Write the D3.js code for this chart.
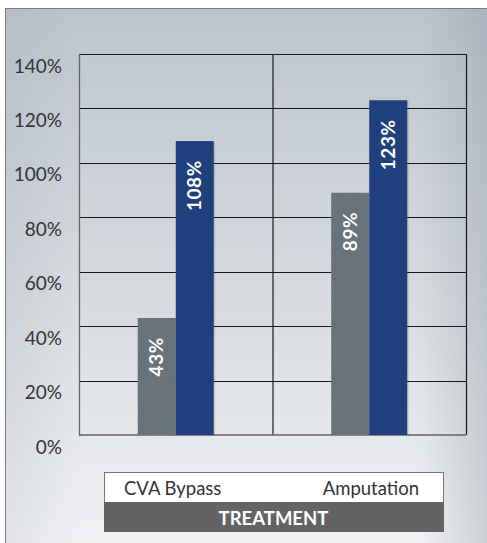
<!DOCTYPE html>
<html>
<head>
<meta charset="utf-8">
<script src="https://cdn.jsdelivr.net/npm/d3@7"></script>
<style>
  body { margin: 0; background: #fff; }
  svg { display: block; font-family: Lato, "Open Sans", sans-serif; }
</style>
</head>
<body>
<svg id="chart"></svg>
<script>
const categories = ['CVA Bypass', 'Amputation'];
const series = ['first', 'second'];
const firstValues = [43, 89];
const secondValues = [108, 123];
const yTicks = [0, 20, 40, 60, 80, 100, 120, 140];
const axisTitle = 'TREATMENT';

const W = 487, H = 543;
const margin = { top: 54, left: 79, right: 21, bottom: 108 };
const w = W - margin.left - margin.right;
const h = H - margin.top - margin.bottom;

const svg = d3.select('#chart').attr('width', W).attr('height', H);
const defs = svg.append('defs');

const bg = defs.append('linearGradient').attr('id', 'bg')
  .attr('x1', 0).attr('y1', 0).attr('x2', 0).attr('y2', 1);
bg.append('stop').attr('offset', '0%').attr('stop-color', '#bcc4cd');
bg.append('stop').attr('offset', '55%').attr('stop-color', '#d8dce1');
bg.append('stop').attr('offset', '100%').attr('stop-color', '#f1f2f4');

const side = defs.append('linearGradient').attr('id', 'side')
  .attr('x1', 0).attr('y1', 0).attr('x2', 1).attr('y2', 0);
side.append('stop').attr('offset', '0%').attr('stop-color', '#8e99a5').attr('stop-opacity', 0.15);
side.append('stop').attr('offset', '15%').attr('stop-color', '#8e99a5').attr('stop-opacity', 0);
side.append('stop').attr('offset', '85%').attr('stop-color', '#8e99a5').attr('stop-opacity', 0);
side.append('stop').attr('offset', '100%').attr('stop-color', '#8e99a5').attr('stop-opacity', 0.4);

const tex = defs.append('filter').attr('id', 'tex');
tex.append('feTurbulence').attr('type', 'fractalNoise').attr('baseFrequency', 0.9).attr('numOctaves', 2).attr('result', 'n');
tex.append('feColorMatrix').attr('in', 'n').attr('type', 'matrix')
  .attr('values', '0 0 0 0 0.4  0 0 0 0 0.45  0 0 0 0 0.5  0 0 0 0.18 0').attr('result', 'nc');
tex.append('feComposite').attr('in', 'nc').attr('in2', 'SourceGraphic').attr('operator', 'in').attr('result', 'nm');
const fm = tex.append('feMerge');
fm.append('feMergeNode').attr('in', 'SourceGraphic');
fm.append('feMergeNode').attr('in', 'nm');

// panel
svg.append('rect').attr('x', 5.5).attr('y', 8.5).attr('width', W).attr('height', H)
  .attr('fill', 'url(#bg)').attr('stroke', '#7a7a7a');
svg.append('rect').attr('x', 6).attr('y', 9).attr('width', W).attr('height', H)
  .attr('fill', 'url(#side)');

const g = svg.append('g').attr('transform', `translate(${margin.left},${margin.top})`);

const x = d3.scaleBand().domain(categories).range([0, w]);
const xs = d3.scaleBand().domain(series).range([x.bandwidth() / 2 - 38, x.bandwidth() / 2 + 38]);
const y = d3.scaleLinear().domain([0, 140]).range([h, 0]);

// grid
g.selectAll('.grid').data(yTicks.slice(1)).join('line')
  .attr('x1', 0).attr('x2', w)
  .attr('y1', d => Math.round(y(d)) + 0.5).attr('y2', d => Math.round(y(d)) + 0.5)
  .attr('stroke', '#1a1a1a').attr('stroke-width', 1.2);
g.append('line').attr('x1', x(categories[1]) + 0.5).attr('x2', x(categories[1]) + 0.5)
  .attr('y1', 0).attr('y2', h).attr('stroke', '#1a1a1a').attr('stroke-width', 1.2);
g.append('line').attr('x1', w + 0.5).attr('x2', w + 0.5)
  .attr('y1', 0).attr('y2', h).attr('stroke', '#1a1a1a').attr('stroke-width', 1.2);

// y axis
const yAxis = d3.axisLeft(y).tickValues(yTicks).tickSize(0).tickPadding(17).tickFormat(d => d + '%');
const ya = g.append('g').call(yAxis);
ya.select('.domain').attr('stroke', '#666').attr('stroke-width', 1.3);
ya.append('line').attr('x1', 0).attr('x2', w).attr('y1', h).attr('y2', h).attr('stroke', '#666').attr('stroke-width', 1.3);
ya.selectAll('text').attr('fill', '#333').attr('font-size', 19).attr('dy', '0.95em')
  .attr('font-family', 'Lato, "Open Sans", sans-serif');

// bars
const rows = categories.map((c, i) => [
  { cat: c, s: 'first', v: firstValues[i] },
  { cat: c, s: 'second', v: secondValues[i] }
]).flat();

const bars = g.selectAll('.bar').data(rows).join('g');
bars.append('rect')
  .attr('x', d => x(d.cat) + xs(d.s) + 1.5)
  .attr('y', d => y(d.v) + 1)
  .attr('width', xs.bandwidth())
  .attr('height', d => h - y(d.v) - 1)
  .attr('fill', '#000').attr('opacity', 0.1);
bars.append('rect')
  .attr('x', d => x(d.cat) + xs(d.s))
  .attr('y', d => y(d.v))
  .attr('width', xs.bandwidth())
  .attr('height', d => h - y(d.v))
  .attr('fill', d => d.s === 'first' ? '#5f6a72' : '#1f3f7d')
  .attr('filter', d => d.s === 'first' ? 'url(#tex)' : null);
bars.append('text')
  .attr('transform', d => `translate(${x(d.cat) + xs(d.s) + xs.bandwidth() / 2 + 6.5},${y(d.v) + 19}) rotate(-90)`)
  .attr('text-anchor', 'end')
  .attr('fill', '#fff').attr('font-size', 19).attr('font-weight', 'bold')
  .attr('letter-spacing', 0.6)
  .text(d => d.v + '%');

// category box
const boxX = 104, boxW = 339;
svg.append('rect').attr('x', boxX + 0.5).attr('y', 472.5).attr('width', boxW).attr('height', 30)
  .attr('fill', '#fff').attr('stroke', '#777');
svg.append('rect').attr('x', boxX).attr('y', 502).attr('width', boxW + 1).attr('height', 30)
  .attr('fill', '#636363');
svg.append('text').attr('x', 124).attr('y', 495).attr('font-size', 18.5).attr('fill', '#333')
  .text(categories[0]);
svg.append('text').attr('x', 419).attr('y', 495).attr('text-anchor', 'end').attr('font-size', 18.5).attr('fill', '#333')
  .text(categories[1]);
svg.append('text').attr('x', boxX + boxW / 2).attr('y', 524.5).attr('text-anchor', 'middle')
  .attr('font-size', 18.5).attr('font-weight', 'bold').attr('fill', '#fff')
  .text(axisTitle);
</script>
</body>
</html>
